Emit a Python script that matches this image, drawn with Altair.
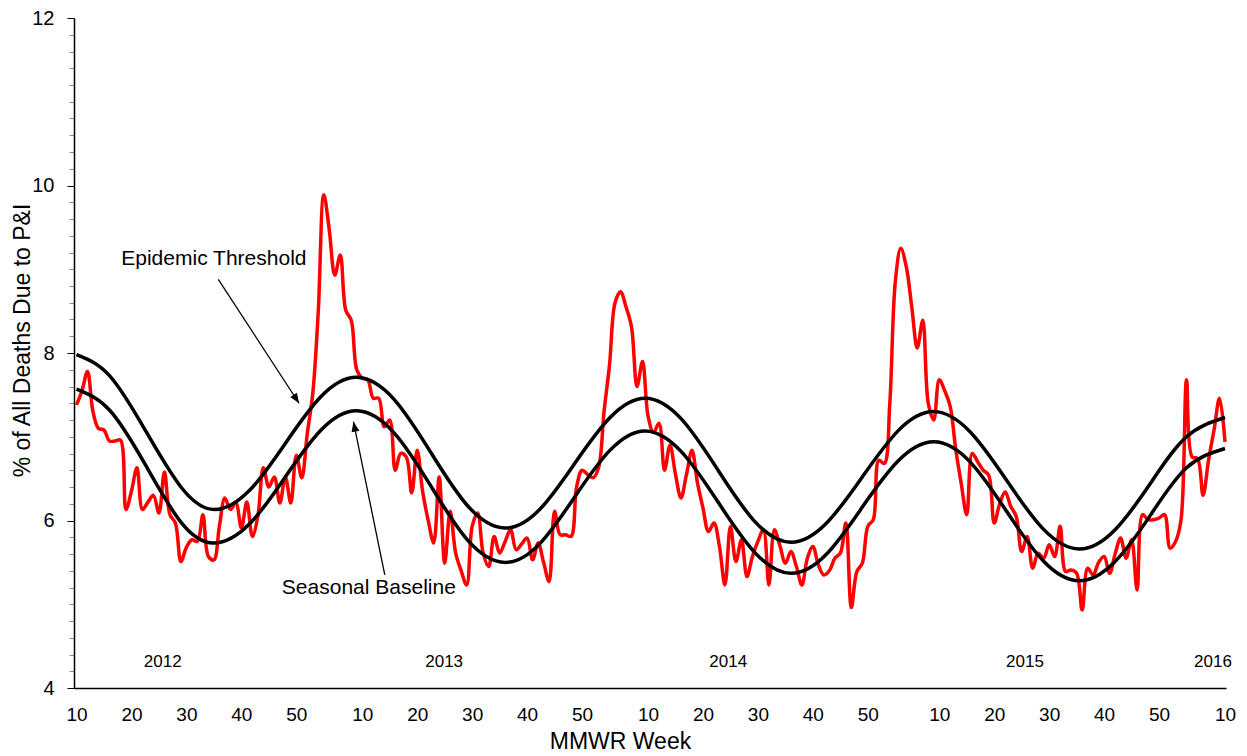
import json
import altair as alt
import pandas as pd

FONT = "Liberation Sans, Arial, Helvetica, sans-serif"

# Weekly % of all deaths due to pneumonia & influenza, 2012 wk10 .. 2016 wk10
PI_PCT = [
    7.38, 7.55, 7.78, 7.30, 7.10, 7.08, 6.95, 6.95, 6.96, 6.13,
    6.35, 6.63, 6.13, 6.22, 6.30, 6.09, 6.58, 6.07, 5.97, 5.51,
    5.68, 5.77, 5.75, 6.07, 5.57, 5.53, 5.93, 6.27, 6.13, 6.21,
    5.91, 6.22, 5.81, 6.05, 6.63, 6.40, 6.52, 6.21, 6.52, 6.21,
    6.78, 6.51, 7.04, 7.52, 8.50, 9.89, 9.47, 8.93, 9.17, 8.51,
    8.39, 7.80, 7.70, 7.68, 7.46, 7.46, 7.12, 7.20, 6.60, 6.80,
    6.76, 6.33, 6.84, 6.34, 6.00, 5.73, 6.52, 5.49, 6.11, 5.61,
    5.40, 5.23, 5.93, 6.09, 5.61, 5.45, 5.81, 5.61, 5.75, 5.89,
    5.65, 5.72, 5.79, 5.53, 5.73, 5.50, 5.27, 6.11, 5.83, 5.83,
    5.81, 6.40, 6.60, 6.55, 6.51, 6.63, 7.30, 7.86, 8.60, 8.73,
    8.55, 8.31, 7.60, 7.90, 7.25, 7.05, 7.16, 6.60, 6.90, 6.55,
    6.27, 6.55, 6.84, 6.45, 6.15, 5.87, 5.97, 5.69, 5.23, 5.93,
    5.51, 5.77, 5.33, 5.57, 5.75, 5.89, 5.23, 5.89, 5.70, 5.49,
    5.63, 5.45, 5.23, 5.55, 5.69, 5.47, 5.35, 5.40, 5.55, 5.61,
    5.97, 4.96, 5.39, 5.49, 5.93, 6.01, 6.72, 6.68, 7.40, 8.85,
    9.25, 9.03, 8.55, 8.06, 8.39, 7.40, 7.20, 7.68, 7.55, 7.36,
    6.85, 6.44, 6.07, 6.80, 6.70, 6.60, 6.54, 5.97, 6.20, 6.34,
    6.17, 6.05, 5.63, 5.81, 5.43, 5.61, 5.55, 5.71, 5.57, 5.93,
    5.39, 5.41, 5.37, 4.93, 5.43, 5.35, 5.50, 5.57, 5.37, 5.60,
    5.79, 5.55, 5.77, 5.17, 6.07, 6.01, 6.01, 6.03, 6.07, 5.67,
    5.75, 6.01, 7.68, 6.76, 6.74, 6.30, 6.72, 7.08, 7.46, 6.94,
]

# MMWR weeks per year in the span
YEAR_WEEKS = {2012: 52, 2013: 52, 2014: 53, 2015: 52, 2016: 52}
START_YEAR, START_WEEK = 2012, 10

# Seasonal baseline and epidemic threshold, read at points along the week index
CURVE_X = [0, 6, 12.5, 19, 25, 31.5, 38, 44.5, 51, 57.75, 64.5, 71.25, 78,
           84.4, 90.75, 97.1, 103.5, 110.1, 116.75, 123.4, 130, 136.5, 143,
           149.5, 156, 162.6, 169.25, 175.9, 182.5, 189, 195.5, 202, 209]
BASELINE = [7.57, 7.32, 6.67, 5.98, 5.73, 5.96, 6.52, 7.08, 7.31, 7.05, 6.41,
            5.76, 5.50, 5.73, 6.29, 6.84, 7.07, 6.82, 6.22, 5.62, 5.37, 5.60,
            6.16, 6.71, 6.94, 6.70, 6.11, 5.52, 5.28, 5.51, 6.07, 6.63, 6.86]
THRESHOLD = [7.98, 7.73, 7.08, 6.40, 6.13, 6.36, 6.92, 7.48, 7.71, 7.45, 6.81,
             6.17, 5.91, 6.14, 6.69, 7.23, 7.46, 7.21, 6.60, 5.99, 5.74, 5.97,
             6.52, 7.07, 7.30, 7.06, 6.48, 5.90, 5.66, 5.89, 6.45, 7.00, 7.23]

YEAR_LABELS = ["2012", "2013", "2014", "2015", "2016"]
YEAR_LABEL_X = [15.7, 66.9, 118.6, 172.6, 206.8]
YEAR_LABEL_Y = 4.31

# annotation text + arrows (data coordinates)
ANNOT_TEXT = ["Epidemic Threshold", "Seasonal Baseline"]
ANNOT_X = [25.0, 53.2]
ANNOT_Y = [9.12, 5.19]
ARROW_X1 = [25.8, 56.1]
ARROW_Y1 = [8.88, 5.35]
ARROW_X2 = [40.5, 50.4]
ARROW_Y2 = [7.40, 7.18]
ARROW_ANGLE = [146.8, 348.3]

# ---- build week index / labels
weeks = []
y, w = START_YEAR, START_WEEK
for _ in PI_PCT:
    weeks.append(w)
    w += 1
    if w > YEAR_WEEKS[y]:
        y += 1
        w = 1
idx = list(range(len(PI_PCT)))
xtick_vals = [i for i, wk in enumerate(weeks) if wk % 10 == 0]
xtick_labels = [str(weeks[i]) for i in xtick_vals]

df_pi = pd.DataFrame({"x": idx, "v": PI_PCT})
df_curves = pd.DataFrame({"x": CURVE_X, "base": BASELINE, "thr": THRESHOLD})
df_years = pd.DataFrame({"x": YEAR_LABEL_X, "y": [YEAR_LABEL_Y] * len(YEAR_LABELS), "t": YEAR_LABELS})
df_ann = pd.DataFrame({"x": ANNOT_X, "y": ANNOT_Y, "t": ANNOT_TEXT})
df_arr = pd.DataFrame({"x1": ARROW_X1, "y1": ARROW_Y1, "x2": ARROW_X2, "y2": ARROW_Y2, "ang": ARROW_ANGLE})

xs = alt.Scale(domain=[-0.455, 209.18], nice=False, zero=False)
ys = alt.Scale(domain=[4, 12], nice=False, zero=False)

ytick_vals = [round(4 + 0.2 * i, 1) for i in range(41)]
major = "datum.value % 2 === 0"

x_axis = alt.Axis(
    values=xtick_vals,
    labelExpr=f"{json.dumps(xtick_labels)}[indexof({json.dumps(xtick_vals)}, datum.value)]",
    ticks=False, grid=False, domainColor="black", domainWidth=1.5,
    labelFont=FONT, labelFontSize=19, labelColor="black", labelPadding=17,
    labelOverlap=False, labelFlush=False, labelBound=False,
    title="MMWR Week", titleFont=FONT, titleFontSize=23, titleFontWeight="normal",
    titleColor="black", titleX=546, titleY=60, titleAlign="center",
    titleBaseline="alphabetic",
)
y_axis = alt.Axis(
    values=ytick_vals,
    labelExpr=f"{major} ? format(datum.value, 'd') : ''",
    tickSize={"condition": {"test": major, "value": 7}, "value": 5},
    tickColor={"condition": {"test": major, "value": "black"}, "value": "#8c8c8c"},
    tickWidth=1, grid=False, domainColor="black", domainWidth=1.5,
    labelFont=FONT, labelFontSize=20, labelColor="black", labelPadding=13,
    labelOverlap=False, labelFlush=False, labelBound=False,
    title="% of All Deaths Due to P&I", titleFont=FONT, titleFontSize=23,
    titleFontWeight="normal", titleColor="black", titleAngle=270,
    titleX=-52, titleY=322, titleAlign="center", titleBaseline="middle",
)


def X(field):
    return alt.X(field, scale=xs, axis=x_axis)


def Y(field):
    return alt.Y(field, scale=ys, axis=y_axis)


red = alt.Chart(df_pi).mark_line(color="#ff0000", strokeWidth=3.5, interpolate="catmull-rom").encode(
    x=X("x:Q"), y=Y("v:Q"),
)
thr = alt.Chart(df_curves).mark_line(color="black", strokeWidth=3.5, interpolate="natural").encode(
    x=X("x:Q"), y=Y("thr:Q"),
)
base = alt.Chart(df_curves).mark_line(color="black", strokeWidth=3.5, interpolate="natural").encode(
    x=X("x:Q"), y=Y("base:Q"),
)
arrows = alt.Chart(df_arr).mark_rule(color="black", strokeWidth=1.3).encode(
    x=X("x1:Q"), y=Y("y1:Q"), x2="x2:Q", y2="y2:Q",
)
heads = alt.Chart(df_arr).mark_point(
    shape="M0,0L-0.4,1L0.4,1Z", size=400, filled=True, color="black", opacity=1, strokeWidth=0
).encode(
    x=X("x2:Q"), y=Y("y2:Q"),
    angle=alt.Angle("ang:Q", scale=None),
)
ann = alt.Chart(df_ann).mark_text(font=FONT, fontSize=21, color="black", align="center", baseline="middle").encode(
    x=X("x:Q"), y=Y("y:Q"), text="t:N",
)
years = alt.Chart(df_years).mark_text(font=FONT, fontSize=17, color="black", align="center", baseline="middle").encode(
    x=X("x:Q"), y=Y("y:Q"), text="t:N",
)

chart = alt.layer(red, thr, base, arrows, heads, ann, years).properties(
    width=1152, height=670,
    autosize=alt.AutoSizeParams(type="none"),
    padding={"left": 66, "top": 10, "right": 12, "bottom": 66},
    background="white",
).configure_view(stroke=None)

chart.save("out.html", embed_options={"renderer": "svg", "actions": False})
